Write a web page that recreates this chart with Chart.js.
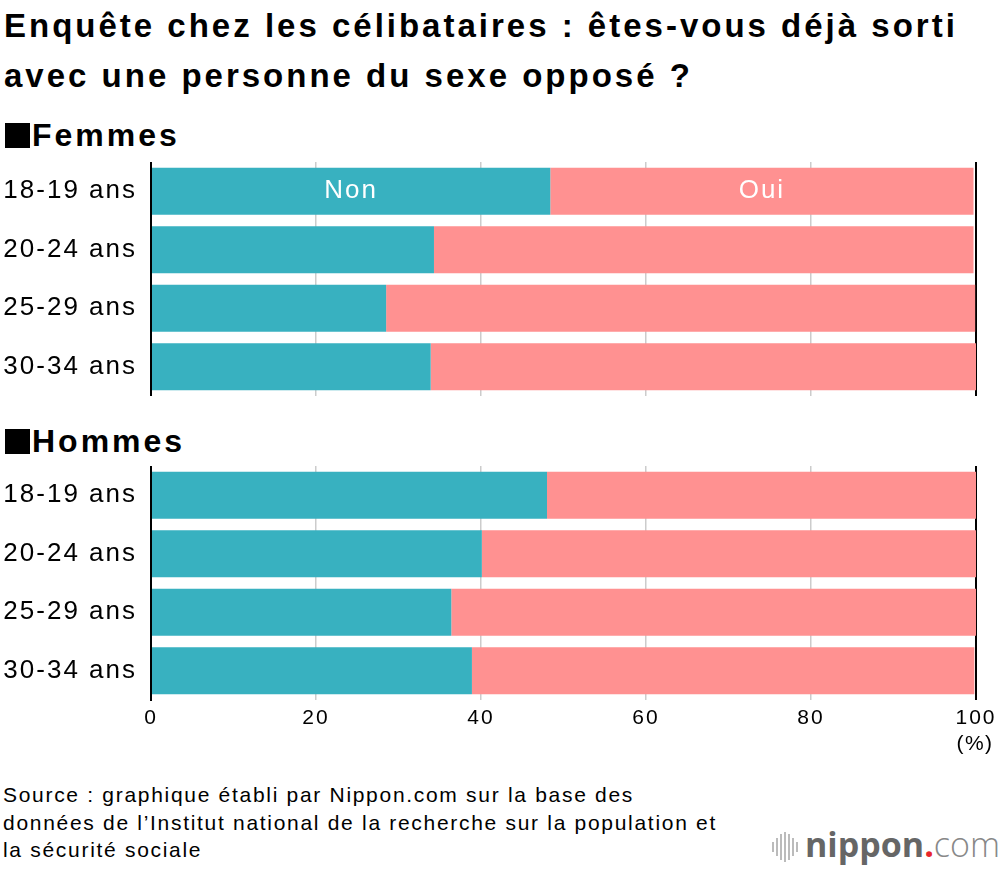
<!DOCTYPE html>
<html><head><meta charset="utf-8">
<script src="https://cdn.jsdelivr.net/npm/chart.js@4"></script>
<style>
html,body{margin:0;padding:0;background:#fff;}
body{width:1000px;height:870px;position:relative;overflow:hidden;font-family:"Liberation Sans",Arial,sans-serif;color:#000;}
.abs{position:absolute;}
#title{left:4px;top:1px;font-weight:bold;font-size:33px;line-height:50px;letter-spacing:3px;white-space:nowrap;}
.sect{left:5px;font-weight:bold;font-size:32px;line-height:40px;letter-spacing:3px;white-space:nowrap;}
.sq{display:inline-block;width:25px;height:25px;background:#000;margin-right:2px;vertical-align:-2px;}
#foot{left:3px;top:781px;font-size:21px;line-height:27.5px;letter-spacing:1.7px;white-space:nowrap;}
#pct{left:925px;width:100px;text-align:center;top:731px;font-size:21px;letter-spacing:1.5px;}
#logo{left:772px;top:828px;height:40px;white-space:nowrap;}
.wave{position:absolute;background:#bbb;width:2px;}
</style></head><body>
<div id="title" class="abs">Enquête chez les célibataires : êtes-vous déjà sorti<br>avec une personne du sexe opposé ?</div>
<div class="sect abs" style="top:115px;"><span class="sq"></span>Femmes</div>
<div class="sect abs" style="top:421px;"><span class="sq"></span>Hommes</div>
<div class="abs" style="left:0;top:162px;width:1000px;height:234px;"><canvas id="c1"></canvas></div>
<div class="abs" style="left:0;top:466px;width:1000px;height:268px;"><canvas id="c2"></canvas></div>
<div id="pct" class="abs">(%)</div>
<div id="foot" class="abs">Source : graphique établi par Nippon.com sur la base des<br>données de l’Institut national de la recherche sur la population et<br>la sécurité sociale</div>
<div id="logo" class="abs">
  <div class="wave" style="left:0;top:14px;height:10px;"></div>
  <div class="wave" style="left:4px;top:10px;height:18px;"></div>
  <div class="wave" style="left:8px;top:6px;height:26px;"></div>
  <div class="wave" style="left:12px;top:4px;height:30px;"></div>
  <div class="wave" style="left:16px;top:6px;height:26px;"></div>
  <div class="wave" style="left:20px;top:10px;height:18px;"></div>
  <div class="wave" style="left:24px;top:14px;height:10px;"></div>
  <span style="position:absolute;left:33px;top:-7px;font-family:'Open Sans';font-weight:700;font-size:34px;color:#666;">nippon<span style="color:#e8262b;">.</span><span style="font-weight:300;color:#888;">com</span></span>
</div>
<script>
const categories = ["18-19 ans","20-24 ans","25-29 ans","30-34 ans"];
const femmesNon = [48.4, 34.3, 28.5, 33.9];
const femmesOui = [51.3, 65.4, 71.4, 66.1];
const hommesNon = [48.0, 40.1, 36.4, 38.9];
const hommesOui = [52.0, 59.9, 63.6, 60.9];
const xTicks = [0, 20, 40, 60, 80, 100];
const seriesNames = ["Non", "Oui"];

const TEAL = '#38b1c0', PINK = '#ff9191';
const FONT = '"Liberation Sans", Arial, sans-serif';

const spacing = {
  id: 'spacing',
  beforeLayout(chart) { chart.ctx.letterSpacing = '2px'; },
  beforeDraw(chart) { chart.ctx.letterSpacing = '2px'; }
};

const segLabels = {
  id: 'segLabels',
  afterDatasetsDraw(chart, args, opts) {
    if (!opts.show) return;
    const ctx = chart.ctx;
    ctx.save();
    ctx.fillStyle = '#fff';
    ctx.font = '26px ' + FONT;
    ctx.textAlign = 'center';
    ctx.textBaseline = 'middle';
    chart.data.datasets.forEach((ds, i) => {
      const el = chart.getDatasetMeta(i).data[0];
      const cx = (el.x + el.base) / 2;
      ctx.fillText(ds.label, cx, el.y);
    });
    ctx.restore();
  }
};

function makeChart(id, non, oui, showTicks, showLabels) {
  return new Chart(document.getElementById(id), {
    type: 'bar',
    data: {
      labels: categories,
      datasets: [
        {label: seriesNames[0], data: non, backgroundColor: TEAL, barPercentage: 0.8, categoryPercentage: 1.0},
        {label: seriesNames[1], data: oui, backgroundColor: PINK, barPercentage: 0.8, categoryPercentage: 1.0}
      ]
    },
    options: {
      indexAxis: 'y',
      responsive: true,
      maintainAspectRatio: false,
      animation: false,
      layout: {padding: {left: 0, right: 24, top: 0, bottom: 0}},
      plugins: {legend: {display: false}, tooltip: {enabled: false}, segLabels: {show: showLabels}},
      scales: {
        x: {
          stacked: true, min: 0, max: 100,
          afterBuildTicks(s) { s.ticks = xTicks.map(v => ({value: v})); },
          grid: {
            color: c => (c.tick && (c.tick.value === 100 || c.tick.value === 0)) ? '#000' : '#cccccc',
            lineWidth: c => (c.tick && (c.tick.value === 100 || c.tick.value === 0)) ? 2 : 1.5,
            drawTicks: false
          },
          border: {display: false},
          ticks: {display: showTicks, color: '#000', padding: 6, maxRotation: 0, font: {size: 21, family: FONT}},
          afterFit(s) { s.height = showTicks ? 34 : 0; s.paddingLeft = 0; s.paddingRight = 0; }
        },
        y: {
          stacked: true,
          grid: {display: false, drawTicks: false},
          border: {display: true, color: '#000', width: 2},
          ticks: {color: '#000', padding: 14, font: {size: 26, family: FONT}},
          afterFit(s) { s.width = 151; s.paddingTop = 0; s.paddingBottom = 0; }
        }
      }
    },
    plugins: [spacing, segLabels]
  });
}
makeChart('c1', femmesNon, femmesOui, false, true);
makeChart('c2', hommesNon, hommesOui, true, false);
</script>
</body></html>
